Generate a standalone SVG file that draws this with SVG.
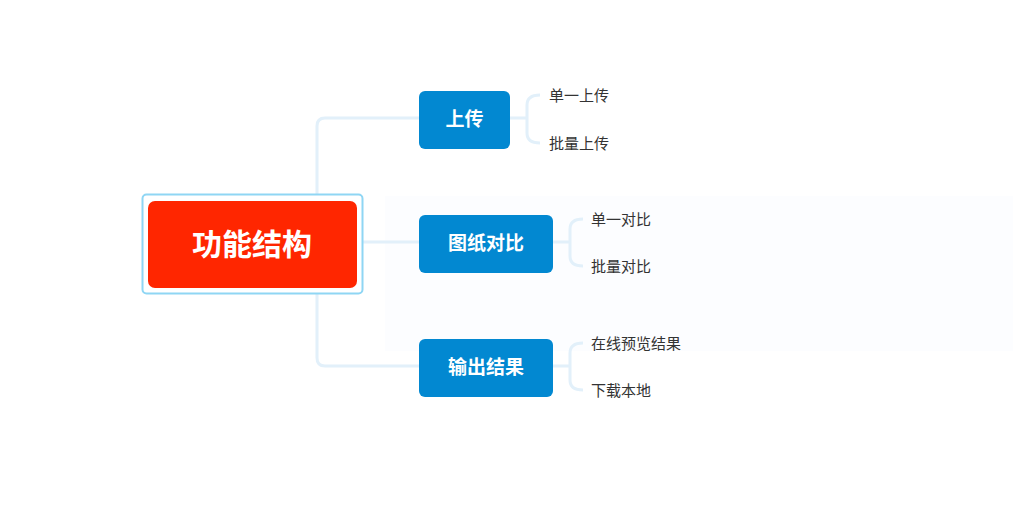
<svg xmlns="http://www.w3.org/2000/svg" width="1013" height="518" viewBox="0 0 1013 518">
<style>
.c{fill:none;stroke:#e2f0fa;stroke-width:3}
.b{fill:#0288d1}
.bt{font-family:"Noto Sans CJK SC",sans-serif;font-weight:bold;font-size:19px;fill:#fff;text-anchor:middle}
.l{font-family:"Noto Sans CJK SC",sans-serif;font-size:15px;fill:#333}
</style>
<rect width="1013" height="518" fill="#fff"/>
<rect x="385" y="196" width="628" height="155" fill="#fcfdff"/>
<g id="connectors">
<path class="c" d="M363 242H419M419 118H325Q317 118 317 126V358Q317 366 325 366H419"/>
<path class="c" d="M510 118H527M540 95Q527 95 527 105V133Q527 143 540 143"/>
<path class="c" d="M553 242H570M583 219Q570 219 570 229V256Q570 266 583 266"/>
<path class="c" d="M553 366H570M583 343Q570 343 570 353V380Q570 390 583 390"/>
</g>
<g id="root">
<rect x="142.5" y="194.5" width="220" height="99" rx="4" fill="#fff" stroke="#8fd6f4" stroke-width="2"/>
<rect x="148" y="201" width="209" height="87" rx="7" fill="#ff2600"/>
<text x="252" y="255" font-family="Noto Sans CJK SC,sans-serif" font-weight="bold" font-size="30" fill="#fff" text-anchor="middle">功能结构</text>
</g>
<g id="n1"><rect class="b" x="419" y="91" width="91" height="58" rx="6"/><text class="bt" x="464.5" y="126">上传</text></g>
<g id="n2"><rect class="b" x="419" y="215" width="134" height="58" rx="6"/><text class="bt" x="486" y="250">图纸对比</text></g>
<g id="n3"><rect class="b" x="419" y="339" width="134" height="58" rx="6"/><text class="bt" x="486" y="374">输出结果</text></g>
<g id="l1"><text class="l" x="549" y="101">单一上传</text></g>
<g id="l2"><text class="l" x="549" y="149">批量上传</text></g>
<g id="l3"><text class="l" x="591" y="225">单一对比</text></g>
<g id="l4"><text class="l" x="591" y="272">批量对比</text></g>
<g id="l5"><text class="l" x="591" y="349">在线预览结果</text></g>
<g id="l6"><text class="l" x="591" y="396">下载本地</text></g>
</svg>
